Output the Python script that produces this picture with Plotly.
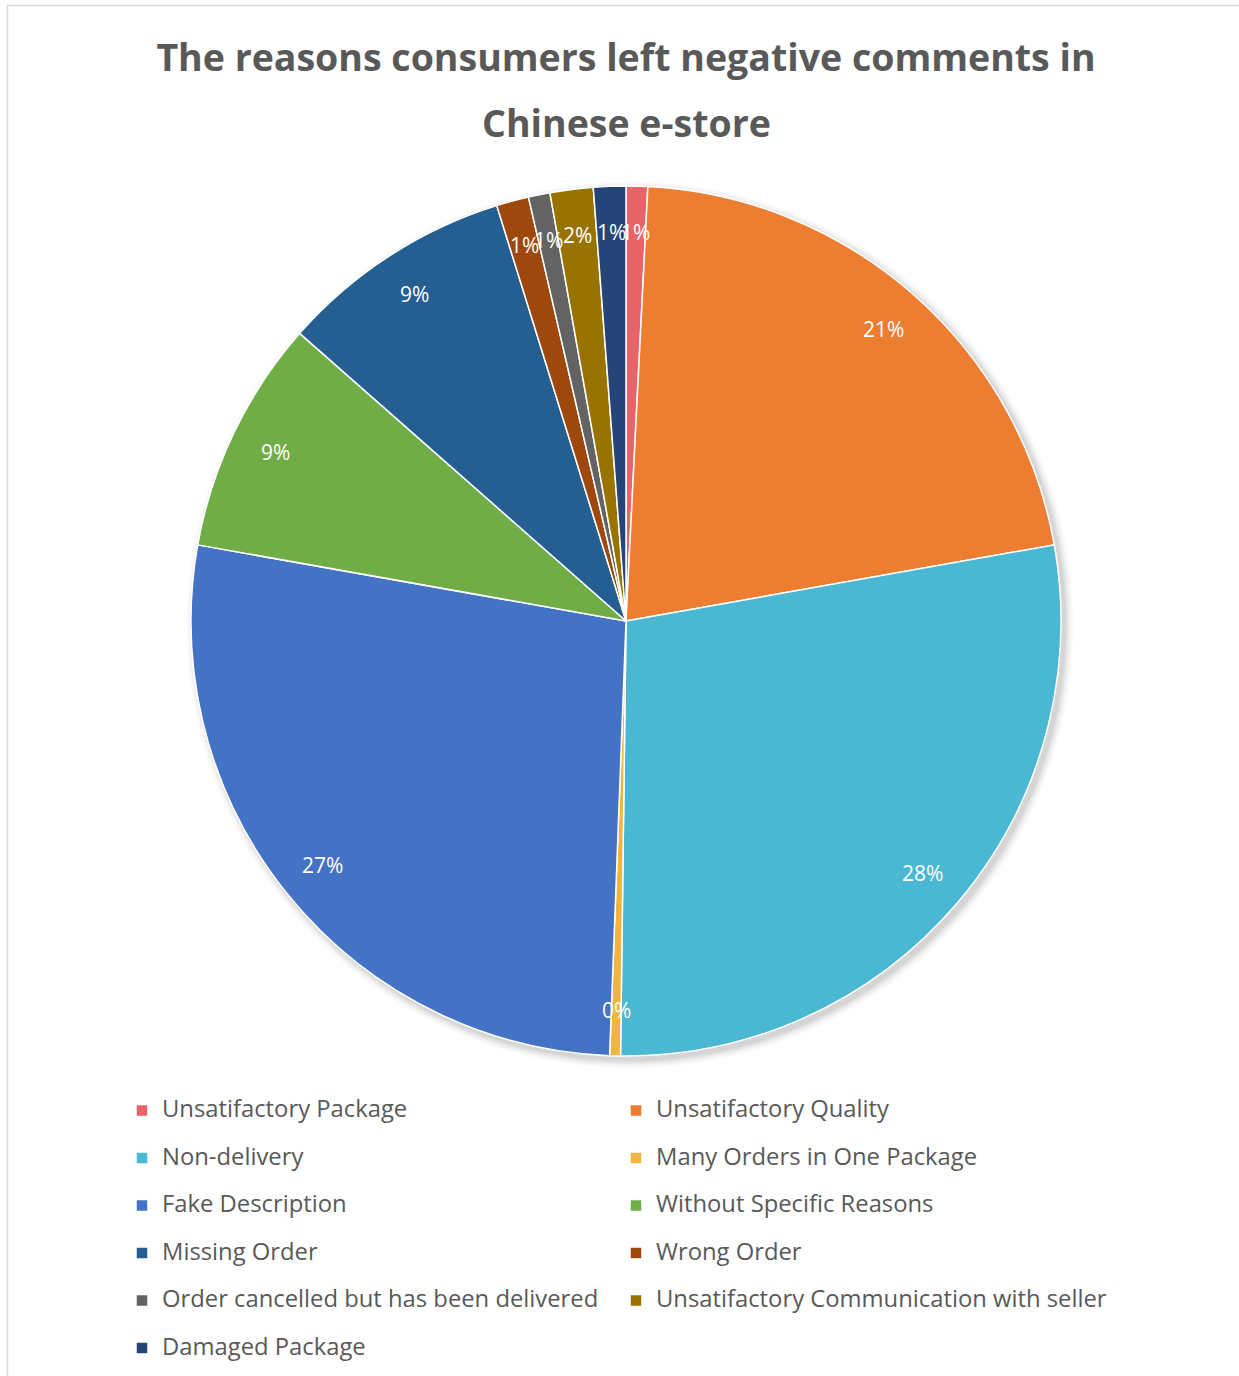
import math
import plotly.graph_objects as go

# ---------------- data ----------------
categories = [
    "Unsatifactory Package",
    "Unsatifactory Quality",
    "Non-delivery",
    "Many Orders in One Package",
    "Fake Description",
    "Without Specific Reasons",
    "Missing Order",
    "Wrong Order",
    "Order cancelled but has been delivered",
    "Unsatifactory Communication with seller",
    "Damaged Package",
]
shares = [0.8, 21.4, 28.0, 0.4, 27.2, 8.7, 8.7, 1.2, 0.8, 1.6, 1.2]
colors = [
    "#E9636A", "#ED7D31", "#4BB8D3", "#F0B43F", "#4472C4", "#70AD47",
    "#255E91", "#9E480E", "#636363", "#997300", "#264478",
]
title_lines = ["The reasons consumers left negative comments in", "Chinese e-store"]

# ---------------- layout geometry ----------------
W, H = 1239, 1376
CX, CY, R = 626, 621, 435
FONT = "Open Sans"
TXT = "#595959"

dom_x = [(CX - R) / W, (CX + R) / W]
dom_y = [1 - (CY + R) / H, 1 - (CY - R) / H]

legend_labels = [f"<span style='font-size:23.8px'>{c}</span><br> " for c in categories]

fig = go.Figure()
fig.add_trace(go.Pie(
    labels=legend_labels,
    values=shares,
    customdata=categories,
    sort=False,
    direction="clockwise",
    rotation=0,
    marker=dict(colors=colors, line=dict(color="white", width=1.5)),
    textinfo="none",
    textposition="none",
    hovertemplate="%{customdata}: %{percent}<extra></extra>",
    domain=dict(x=dom_x, y=dom_y),
))

# percentage labels placed along each slice's mid angle
total = sum(shares)
annotations = []
cum = 0.0
for v in shares:
    mid = (cum + v / 2) / total * 2 * math.pi
    cum += v
    r = 0.895 * R
    px = CX + r * math.sin(mid)
    py = CY - r * math.cos(mid)
    annotations.append(dict(
        x=px / W, y=1 - py / H, xref="paper", yref="paper",
        text=f"{round(100 * v / total)}%", showarrow=False,
        font=dict(family=FONT, size=21, color="white"),
        xanchor="center", yanchor="middle",
    ))

annotations.append(dict(
    x=CX / W, y=1 - 123 / H, xref="paper", yref="paper",
    text=f"<b>{title_lines[1]}</b>", showarrow=False,
    font=dict(family=FONT, size=37.5, color=TXT),
    xanchor="center", yanchor="middle",
))

# soft shadow under the pie + outer frame
shapes = []
for i, a in enumerate([0.04, 0.035, 0.03, 0.025, 0.02, 0.015]):
    rr = R + 1 + i * 1.5
    ox, oy = CX + 4, CY + 4
    shapes.append(dict(
        type="circle", xref="paper", yref="paper", layer="below",
        x0=(ox - rr) / W, x1=(ox + rr) / W,
        y0=1 - (oy + rr) / H, y1=1 - (oy - rr) / H,
        fillcolor=f"rgba(0,0,0,{a})", line=dict(width=0),
    ))
shapes.append(dict(
    type="rect", xref="paper", yref="paper", layer="above",
    x0=7.5 / W, x1=1.05, y0=-0.05, y1=1 - 5.5 / H,
    line=dict(color="#D9D9D9", width=1.5), fillcolor="rgba(0,0,0,0)",
))

fig.update_layout(
    width=W, height=H,
    margin=dict(l=0, r=0, t=0, b=0, autoexpand=False),
    paper_bgcolor="white",
    plot_bgcolor="white",
    title=dict(
        text=f"<b>{title_lines[0]}</b>",
        x=CX / W, xanchor="center",
        y=1 - 58 / H, yanchor="middle",
        xref="paper", yref="paper",
        font=dict(family=FONT, size=37.5, color=TXT),
    ),
    showlegend=True,
    legend=dict(
        orientation="h",
        x=122 / W, xanchor="left",
        y=1 - 1093 / H, yanchor="top",
        entrywidth=449, entrywidthmode="pixels",
        valign="top",
        font=dict(family=FONT, size=17.1, color=TXT),
        bgcolor="rgba(0,0,0,0)",
        traceorder="normal",
    ),
    annotations=annotations,
    shapes=shapes,
)

fig.write_html("out.html")
